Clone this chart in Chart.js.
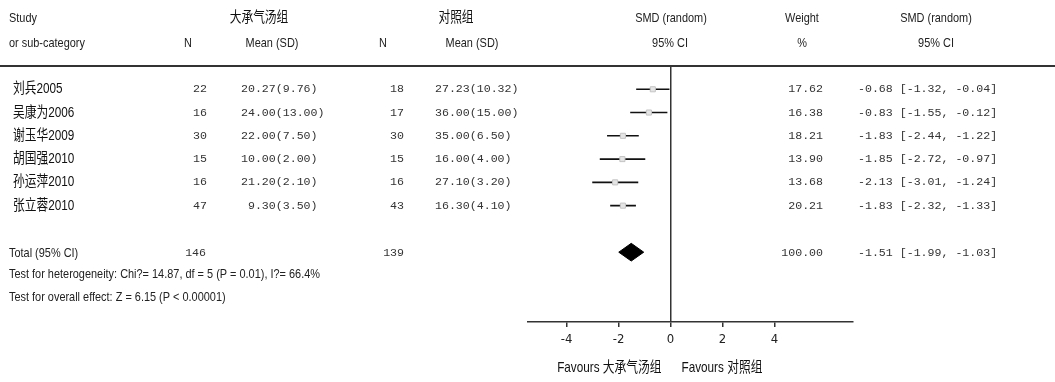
<!DOCTYPE html>
<html>
<head>
<meta charset="utf-8">
<script src="https://cdn.jsdelivr.net/npm/chart.js@4.4.1/dist/chart.umd.min.js"></script>
<style>
  html, body { margin: 0; padding: 0; background: #fff; }
  #wrap { width: 1055px; height: 382px; }
</style>
</head>
<body>
<div id="wrap"><canvas id="forest" width="1055" height="382"></canvas></div>
<script>
// study data
const studies = ["刘兵2005", "吴康为2006", "谢玉华2009", "胡国强2010", "孙运萍2010", "张立蓉2010"];
const nTreat = [22, 16, 30, 15, 16, 47];
const meanTreat = [20.27, 24.00, 22.00, 10.00, 21.20, 9.30];
const sdTreat = [9.76, 13.00, 7.50, 2.00, 2.10, 3.50];
const nCtrl = [18, 17, 30, 15, 16, 43];
const meanCtrl = [27.23, 36.00, 35.00, 16.00, 27.10, 16.30];
const sdCtrl = [10.32, 15.00, 6.50, 4.00, 3.20, 4.10];
const weights = [17.62, 16.38, 18.21, 13.90, 13.68, 20.21];
const smd = [-0.68, -0.83, -1.83, -1.85, -2.13, -1.83];
const ciLow = [-1.32, -1.55, -2.44, -2.72, -3.01, -2.32];
const ciHigh = [-0.04, -0.12, -1.22, -0.97, -1.24, -1.33];

// pooled
const totalN = [146, 139];
const totalWeight = 100.00;
const totalSmd = -1.51;
const totalLow = -1.99;
const totalHigh = -1.03;

const xTicks = [-4, -2, 0, 2, 4];

const TOTAL_ROW = 7;
const sans = '"Liberation Sans", Arial, "Noto Sans CJK SC", sans-serif';
const mono = '"Liberation Mono", "DejaVu Sans Mono", monospace';
const hetLine = "Test for heterogeneity: Chi?= 14.87, df = 5 (P = 0.01), I?= 66.4%";
const BASE = 13.5;

const fmt = v => v.toFixed(2);
const meanSd = (m, s) => fmt(m).padStart(5, " ") + "(" + fmt(s) + ")";
const ciText = (e, l, h) => fmt(e) + " [" + fmt(l) + ", " + fmt(h) + "]";

// whisker segments, broken by null points
const whiskers = [];
studies.forEach((s, i) => {
    whiskers.push({ x: ciLow[i], y: i }, { x: ciHigh[i], y: i }, { x: null, y: null });
});

const diamond = [
    { x: totalLow, y: TOTAL_ROW },
    { x: totalSmd, y: TOTAL_ROW - 0.38 },
    { x: totalHigh, y: TOTAL_ROW },
    { x: totalSmd, y: TOTAL_ROW + 0.38 },
    { x: totalLow, y: TOTAL_ROW },
];

const tablePlugin = {
    id: "forestTable",
    afterDraw(chart) {
        const ctx = chart.ctx;
        const yScale = chart.scales.y;
        const xScale = chart.scales.x;
        const x0 = xScale.getPixelForValue(0);

        // the original uses a narrow font; squeeze a regular sans to the same width
        ctx.font = BASE + "px " + sans;
        const squeeze = 311 / ctx.measureText(hetLine).width;

        const text = (str, x, y, align, font, color, sx) => {
            ctx.save();
            ctx.font = font;
            ctx.fillStyle = color || "#222";
            ctx.textAlign = align;
            ctx.textBaseline = "middle";
            ctx.translate(x, y);
            ctx.scale(sx || 1, 1);
            ctx.fillText(str, 0, 0);
            ctx.restore();
        };
        const label = (str, x, y, align, size, color) =>
            text(str, x, y, align, size + "px " + sans, color, squeeze);

        ctx.save();
        // header rule
        ctx.strokeStyle = "#333";
        ctx.lineWidth = 2;
        ctx.beginPath();
        ctx.moveTo(0, 66);
        ctx.lineTo(1055, 66);
        ctx.stroke();
        ctx.restore();

        label("Study", 9, 18, "left", BASE);
        label("or sub-category", 9, 43, "left", BASE);
        label("大承气汤组", 259, 18, "center", 14.5, "#111");
        label("N", 188, 43, "center", BASE);
        label("Mean (SD)", 272, 43, "center", BASE);
        label("对照组", 456, 18, "center", 14.5, "#111");
        label("N", 383, 43, "center", BASE);
        label("Mean (SD)", 472, 43, "center", BASE);
        label("SMD (random)", 671, 18, "center", BASE);
        label("95% CI", 670, 43, "center", BASE);
        label("Weight", 802, 18, "center", BASE);
        label("%", 802, 43, "center", BASE);
        label("SMD (random)", 936, 18, "center", BASE);
        label("95% CI", 936, 43, "center", BASE);

        const numFont = "11.6px " + mono;
        studies.forEach((s, i) => {
            const y = yScale.getPixelForValue(i);
            label(s, 13, y, "left", 14.5, "#111");
            text(String(nTreat[i]), 207, y, "right", numFont, "#333");
            text(meanSd(meanTreat[i], sdTreat[i]), 241, y, "left", numFont, "#333");
            text(String(nCtrl[i]), 404, y, "right", numFont, "#333");
            text(meanSd(meanCtrl[i], sdCtrl[i]), 435, y, "left", numFont, "#333");
            text(fmt(weights[i]), 823, y, "right", numFont, "#333");
            text(ciText(smd[i], ciLow[i], ciHigh[i]), 858, y, "left", numFont, "#333");
        });

        const yt = yScale.getPixelForValue(TOTAL_ROW) + 1;
        label("Total (95% CI)", 9, yt, "left", BASE);
        text(String(totalN[0]), 206, yt, "right", numFont, "#333");
        text(String(totalN[1]), 404, yt, "right", numFont, "#333");
        text(fmt(totalWeight), 823, yt, "right", numFont, "#333");
        text(ciText(totalSmd, totalLow, totalHigh), 858, yt, "left", numFont, "#333");

        label(hetLine, 9, 274, "left", BASE);
        label("Test for overall effect: Z = 6.15 (P < 0.00001)", 9, 297, "left", BASE);

        label("Favours 大承气汤组", x0 - 9, 368, "right", 14.5, "#111");
        label("Favours 对照组", x0 + 11, 368, "left", 14.5, "#111");
    },
};

new Chart(document.getElementById("forest"), {
    data: {
        datasets: [
            {
                type: "line",
                data: whiskers,
                borderColor: "#111",
                borderWidth: 1.6,
                pointRadius: 0,
                spanGaps: false,
                order: 2,
            },
            {
                type: "scatter",
                data: smd.map((v, i) => ({ x: v, y: i })),
                pointStyle: "rect",
                pointRadius: 3.6,
                backgroundColor: "#e4e4e4",
                borderColor: "#c4c4c4",
                borderWidth: 1,
                order: 1,
            },
            {
                type: "line",
                data: diamond,
                borderColor: "#000",
                backgroundColor: "#000",
                borderWidth: 1,
                fill: "shape",
                pointRadius: 0,
                tension: 0,
                order: 0,
            },
        ],
    },
    options: {
        responsive: false,
        animation: false,
        devicePixelRatio: 1,
        layout: { padding: { top: 66, left: 527.5, right: 202.5, bottom: 30 } },
        plugins: {
            legend: { display: false },
            tooltip: { enabled: false },
        },
        scales: {
            x: {
                type: "linear",
                min: -5.5,
                max: 7,
                afterBuildTicks: scale => {
                    scale.ticks = xTicks.map(v => ({ value: v }));
                },
                afterFit: scale => {
                    scale.height = 30;
                },
                border: { display: true, color: "#333", width: 1.5 },
                grid: {
                    color: c => (c.tick && c.tick.value === 0 ? "#333" : "rgba(0,0,0,0)"),
                    lineWidth: 1.5,
                    tickColor: "#333",
                    tickLength: 5,
                },
                ticks: {
                    padding: 5,
                    color: "#222",
                    font: { family: '"DejaVu Sans Condensed", sans-serif', size: 13 },
                },
            },
            y: {
                type: "linear",
                display: false,
                reverse: true,
                min: -1,
                max: 10,
            },
        },
    },
    plugins: [tablePlugin],
});
</script>
</body>
</html>
